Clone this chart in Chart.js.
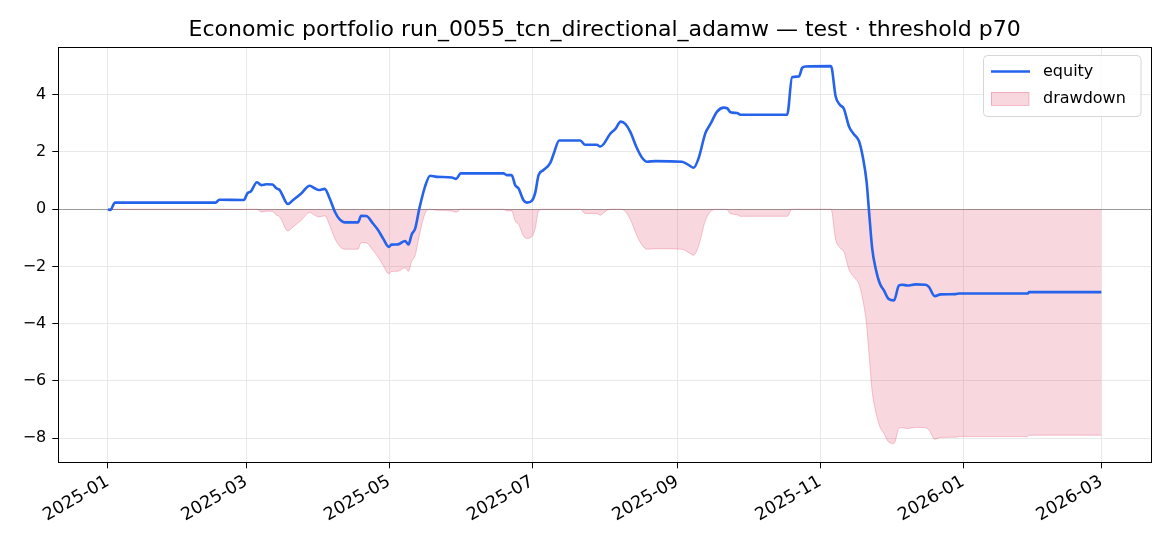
<!DOCTYPE html>
<html>
<head>
<meta charset="utf-8">
<script src="https://cdn.jsdelivr.net/npm/chart.js@4.4.1/dist/chart.umd.min.js"></script>
<style>
  html, body { margin: 0; padding: 0; background: #ffffff; }
  #wrap { width: 1170px; height: 546px; position: relative; }
</style>
</head>
<body>
<div id="wrap"><canvas id="c" width="1170" height="546"></canvas></div>
<script>
// ---- data ----
const titleText = 'Economic portfolio run_0055_tcn_directional_adamw \u2014 test \u00b7 threshold p70';
const startDate = '2025-01-01';
const tickLabels = ['2025-01', '2025-03', '2025-05', '2025-07', '2025-09', '2025-11', '2026-01', '2026-03'];
const yTicks = [-8, -6, -4, -2, 0, 2, 4];
// days since 2025-01-01
const days = [0, 1, 3, 46, 47.5, 58, 59.5, 61, 63.6, 65.5, 67.6, 70.2, 71.9, 73.3, 76.8, 79, 82.5, 86.1, 88.2, 90,
  92.5, 94.6, 96.8, 98.9, 101, 106.7, 108.1, 110.3, 113.1, 115.2, 117.4, 119.9, 121, 123.8, 126.8, 128.3, 129.6, 131.1,
  132.9, 135.3, 137.5, 140.3, 146.7, 148.6, 150.6, 168.8, 170.3, 172.3, 173.8, 175.3, 177.3, 178.8, 180.9, 182.3,
  183.8, 185.9, 188.8, 190.3, 192.6, 201.6, 203.7, 208.7, 210.1, 211.5, 214.3, 216.5, 218.9, 220.8, 222.9, 225.8,
  227.9, 230.1, 233.6, 245, 247.9, 250, 252.1, 255, 257.1, 260, 262.8, 264.3, 265.7, 268.5, 270, 289.9, 292, 294.9,
  296.3, 297.7, 308.6, 310.6, 312.4, 314.1, 316.3, 318.3, 320.5, 322.3, 323.8, 324.8, 326.2, 327.7, 329.5, 331.2,
  333.1, 335.5, 337.6, 339.1, 341.2, 344.7, 349, 350.4, 352.9, 355.4, 361.8, 363.3, 392.5, 393.2, 424];
const equity = [0.00, -0.03, 0.23, 0.23, 0.33, 0.32, 0.55, 0.62, 0.94, 0.84, 0.87, 0.86, 0.73, 0.67, 0.18, 0.32, 0.55, 0.82, 0.73, 0.67,
  0.71, 0.38, -0.08, -0.36, -0.46, -0.46, -0.23, -0.24, -0.50, -0.72, -1.02, -1.32, -1.24, -1.23, -1.11, -1.23, -0.89, -0.68,
  0.02, 0.78, 1.17, 1.13, 1.11, 1.06, 1.25, 1.25, 1.19, 1.19, 0.84, 0.72, 0.32, 0.23, 0.29, 0.55,
  1.19, 1.37, 1.62, 1.95, 2.40, 2.40, 2.25, 2.25, 2.19, 2.27, 2.63, 2.80, 3.06, 2.98, 2.71, 2.13,
  1.81, 1.66, 1.68, 1.66, 1.54, 1.45, 1.78, 2.66, 2.97, 3.41, 3.55, 3.53, 3.39, 3.36, 3.30, 3.30, 4.61, 4.64,
  4.94, 4.99, 5.00, 3.94, 3.65, 3.51, 2.89, 2.63, 2.39, 1.78, 0.96, -0.03, -1.38, -2.08, -2.61, -2.84,
  -3.13, -3.19, -2.67, -2.64, -2.67, -2.63, -2.64, -2.72, -3.04, -2.98, -2.97, -2.95, -2.95, -2.90, -2.90];
const drawdown = [0, -0.03, 0, 0, 0, -0.01, 0, 0, 0, -0.10, -0.07, -0.08, -0.21, -0.27, -0.76, -0.62, -0.39, -0.12, -0.21, -0.27,
  -0.23, -0.56, -1.02, -1.30, -1.40, -1.40, -1.17, -1.18, -1.44, -1.66, -1.96, -2.26, -2.18, -2.17, -2.05, -2.17, -1.83, -1.62,
  -0.92, -0.16, 0, -0.04, -0.06, -0.11, 0, 0, -0.06, -0.06, -0.41, -0.53, -0.93, -1.02, -0.96, -0.70,
  -0.06, 0, 0, 0, 0, 0, -0.15, -0.15, -0.21, -0.13, 0, 0, 0, -0.08, -0.35, -0.93,
  -1.25, -1.40, -1.38, -1.40, -1.52, -1.61, -1.28, -0.40, -0.09, 0, 0, -0.02, -0.16, -0.19, -0.25, -0.25, 0, 0,
  0, 0, 0, -1.06, -1.35, -1.49, -2.11, -2.37, -2.61, -3.22, -4.04, -5.03, -6.38, -7.08, -7.61, -7.84,
  -8.13, -8.19, -7.67, -7.64, -7.67, -7.63, -7.64, -7.72, -8.04, -7.98, -7.97, -7.95, -7.95, -7.90, -7.90];

// ---- helpers ----
const DAY = 86400000;
const t0 = Date.parse(startDate + 'T00:00:00Z');
const tickDays = tickLabels.map(s => (Date.parse(s + '-01T00:00:00Z') - t0) / DAY);
const span = days[days.length - 1] - days[0];
const xMin = days[0] - span * 0.05, xMax = days[days.length - 1] + span * 0.05;
const allY = equity.concat(drawdown);
const yLo = Math.min(...allY), yHi = Math.max(...allY);
const yMin = yLo - (yHi - yLo) * 0.05, yMax = yHi + (yHi - yLo) * 0.05;

const FONT = 'DejaVu Sans';
const BLUE = '#2563eb';
const PINK_FILL = 'rgba(220,20,60,0.17)';
const PINK_EDGE = 'rgba(220,20,60,0.22)';

const framePlugin = {
  id: 'frame',
  afterDraw(chart) {
    const { ctx, chartArea: a } = chart;
    ctx.save();
    ctx.strokeStyle = '#000';
    ctx.lineWidth = 1;
    ctx.strokeRect(Math.round(a.left) + 0.5, Math.round(a.top) + 0.5, Math.round(a.right - a.left), Math.round(a.bottom - a.top));
    // title, centred over the plot area
    ctx.fillStyle = '#000';
    ctx.font = '22px "' + FONT + '"';
    ctx.textAlign = 'center';
    ctx.textBaseline = 'alphabetic';
    ctx.fillText(titleText, (a.left + a.right) / 2, 36);
    // legend
    const ds = chart.data.datasets;
    const bx = 983.5, by = 55.5, bw = 157.5, bh = 61;
    ctx.beginPath();
    ctx.roundRect(bx, by, bw, bh, 4);
    ctx.fillStyle = 'rgba(255,255,255,0.85)';
    ctx.fill();
    ctx.strokeStyle = '#d6d6d6';
    ctx.lineWidth = 1;
    ctx.stroke();
    ctx.beginPath();
    ctx.moveTo(991, 71.5); ctx.lineTo(1030, 71.5);
    ctx.strokeStyle = BLUE; ctx.lineWidth = 2.5; ctx.stroke();
    ctx.fillStyle = PINK_FILL; ctx.fillRect(991, 92, 38, 13.5);
    ctx.strokeStyle = PINK_EDGE; ctx.lineWidth = 1; ctx.strokeRect(991.5, 92.5, 37.5, 13);
    ctx.fillStyle = '#000';
    ctx.font = '16px "' + FONT + '"';
    ctx.textBaseline = 'middle';
    ctx.textAlign = 'left';
    ctx.fillText(ds[0].label, 1043, 72);
    ctx.fillText(ds[1].label, 1043, 99);
    ctx.restore();
  }
};

new Chart(document.getElementById('c'), {
  type: 'line',
  data: {
    datasets: [
      {
        label: 'equity',
        data: days.map((d, i) => ({ x: d, y: equity[i] })),
        borderColor: BLUE,
        borderWidth: 2.6,
        pointRadius: 0,
        fill: false,
        cubicInterpolationMode: 'monotone',
        borderJoinStyle: 'round',
        order: 0
      },
      {
        label: 'drawdown',
        data: days.map((d, i) => ({ x: d, y: drawdown[i] })),
        borderColor: PINK_EDGE,
        backgroundColor: PINK_FILL,
        borderWidth: 1,
        pointRadius: 0,
        fill: 'origin',
        cubicInterpolationMode: 'monotone',
        order: 1
      }
    ]
  },
  options: {
    responsive: false,
    animation: false,
    devicePixelRatio: 1,
    layout: { padding: { left: 0, right: 19, top: 47.3, bottom: 0 } },
    plugins: {
      legend: { display: false },
      tooltip: { enabled: false },
      title: { display: false }
    },
    scales: {
      x: {
        type: 'linear',
        min: xMin,
        max: xMax,
        afterFit(s) { s.height = 83.7; },
        afterBuildTicks(s) { s.ticks = tickDays.map(v => ({ value: v })); },
        ticks: {
          autoSkip: false,
          minRotation: 30,
          maxRotation: 30,
          padding: 3,
          color: '#000',
          font: { family: FONT, size: 17.5 },
          callback: (v, i) => tickLabels[i]
        },
        grid: { color: '#e8e8e8', lineWidth: 1, tickColor: '#000', tickLength: 6, drawTicks: true },
        border: { display: true, color: '#000', width: 1 }
      },
      y: {
        type: 'linear',
        min: yMin,
        max: yMax,
        afterFit(s) { s.width = 58.3; },
        afterBuildTicks(s) { s.ticks = yTicks.map(v => ({ value: v })); },
        ticks: {
          padding: 6,
          color: '#000',
          font: { family: FONT, size: 16 },
          callback: v => (v < 0 ? '\u2212' + Math.abs(v) : String(v))
        },
        grid: {
          color: c => (c.tick && c.tick.value === 0 ? '#9a9a9a' : '#e8e8e8'),
          lineWidth: 1, tickColor: '#000', tickLength: 6, drawTicks: true
        },
        border: { display: true, color: '#000', width: 1 }
      }
    }
  },
  plugins: [framePlugin]
});
</script>
</body>
</html>
